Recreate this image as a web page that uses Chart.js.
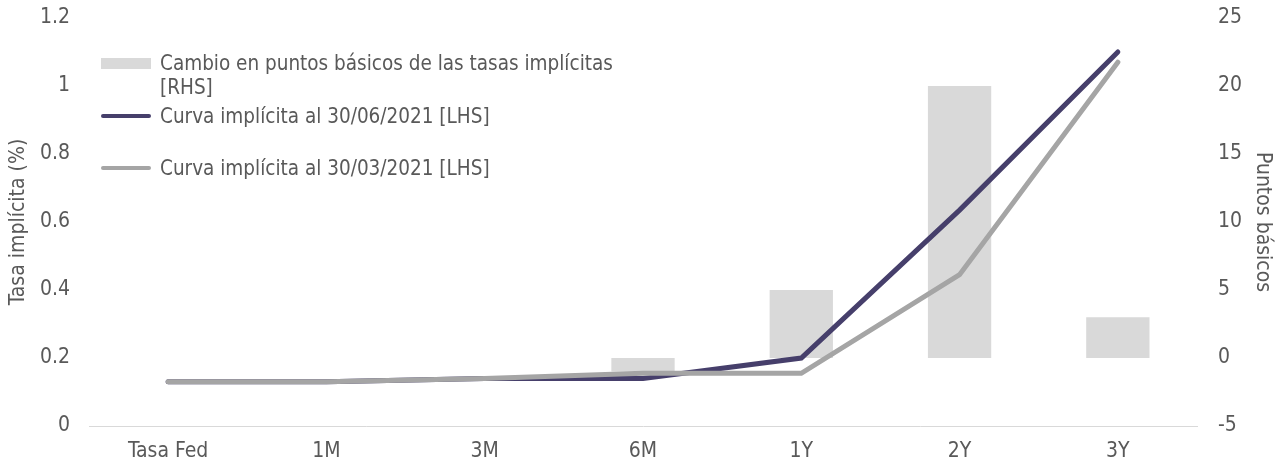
<!DOCTYPE html>
<html>
<head>
<meta charset="utf-8">
<script src="https://cdn.jsdelivr.net/npm/chart.js@4"></script>
<style>
  body { margin: 0; background: #fff; }
  #wrap { position: relative; width: 1275px; height: 462px; }
  #legend { position: absolute; left: 0; top: 0;
    font-family: "DejaVu Sans Condensed", "DejaVu Sans", sans-serif; font-size: 20.5px; color: #595959; }
  .item { position: absolute; left: 101px; width: 540px; padding-left: 59px; line-height: 24px; box-sizing: border-box; }
  .sw { position: absolute; left: 0; width: 50px; }
</style>
</head>
<body>
<div id="wrap">
  <canvas id="chart" width="1275" height="462"></canvas>
  <div id="legend"></div>
</div>
<script>
const categories = ['Tasa Fed', '1M', '3M', '6M', '1Y', '2Y', '3Y'];
const cambioPb = [0, 0, 0, -1, 5, 20, 3];
const curvaJun = [0.13, 0.13, 0.14, 0.14, 0.20, 0.635, 1.10];
const curvaMar = [0.13, 0.13, 0.14, 0.155, 0.155, 0.445, 1.07];
const labels = [
  'Cambio en puntos básicos de las tasas implícitas [RHS]',
  'Curva implícita al 30/06/2021 [LHS]',
  'Curva implícita al 30/03/2021 [LHS]'
];

Chart.defaults.font.family = "'DejaVu Sans Condensed', 'DejaVu Sans', sans-serif";
Chart.defaults.font.size = 21;
Chart.defaults.color = '#595959';

var ctx = document.getElementById('chart').getContext('2d');

var data = {
  labels: categories,
  datasets: [
    {
      type: 'bar',
      label: labels[0],
      data: cambioPb,
      yAxisID: 'y1',
      backgroundColor: '#d9d9d9',
      categoryPercentage: 1,
      barPercentage: 0.4,
      order: 3
    },
    {
      type: 'line',
      label: labels[1],
      data: curvaJun,
      yAxisID: 'y',
      borderColor: '#463f6b',
      borderWidth: 5,
      borderCapStyle: 'round',
      pointRadius: 0,
      tension: 0,
      order: 2
    },
    {
      type: 'line',
      label: labels[2],
      data: curvaMar,
      yAxisID: 'y',
      borderColor: '#a5a5a5',
      borderWidth: 5,
      borderCapStyle: 'round',
      pointRadius: 0,
      tension: 0,
      order: 1
    }
  ]
};

// fixed axis sizes so the plot area sits where the original one does
const fitSide = w => s => { s.width = w; s.paddingTop = 18; s.paddingBottom = 0; };

var options = {
  responsive: false,
  animation: false,
  layout: { padding: { top: 0, bottom: 0, left: 6, right: 0 } },
  plugins: { legend: { display: false }, tooltip: { enabled: false } },
  scales: {
    x: {
      grid: { display: false, drawTicks: false },
      border: { color: '#d9d9d9', width: 1 },
      ticks: { padding: 15, font: { lineHeight: 1 } },
      afterFit: s => { s.height = 36; }
    },
    y: {
      position: 'left',
      min: 0, max: 1.2,
      grid: { display: false, drawTicks: false },
      border: { display: false },
      ticks: { stepSize: 0.2, padding: 19, callback: v => String(Number(v.toFixed(1))) },
      title: { display: true, text: 'Tasa implícita (%)', padding: 0 },
      afterFit: fitSide(83)
    },
    y1: {
      position: 'right',
      min: -5, max: 25,
      grid: { display: false, drawTicks: false },
      border: { display: false },
      ticks: { stepSize: 5, padding: 21 },
      title: { display: true, text: 'Puntos básicos', padding: 0 },
      afterFit: fitSide(78)
    }
  }
};

var chart = new Chart(ctx, { type: 'bar', data: data, options: options });

// legend drawn as html, sitting inside the plot area like the original
var legend = document.getElementById('legend');
var tops = [51, 104, 156];
data.datasets.forEach(function (ds, i) {
  var item = document.createElement('div');
  item.className = 'item';
  item.style.top = tops[i] + 'px';
  var sw = document.createElement('span');
  sw.className = 'sw';
  if (ds.type === 'bar') {
    sw.style.top = '7px'; sw.style.height = '11px'; sw.style.background = ds.backgroundColor;
  } else {
    sw.style.top = '10px'; sw.style.height = '4px'; sw.style.borderRadius = '2px'; sw.style.background = ds.borderColor;
  }
  item.appendChild(sw);
  item.appendChild(document.createTextNode(ds.label));
  legend.appendChild(item);
});
</script>
</body>
</html>
